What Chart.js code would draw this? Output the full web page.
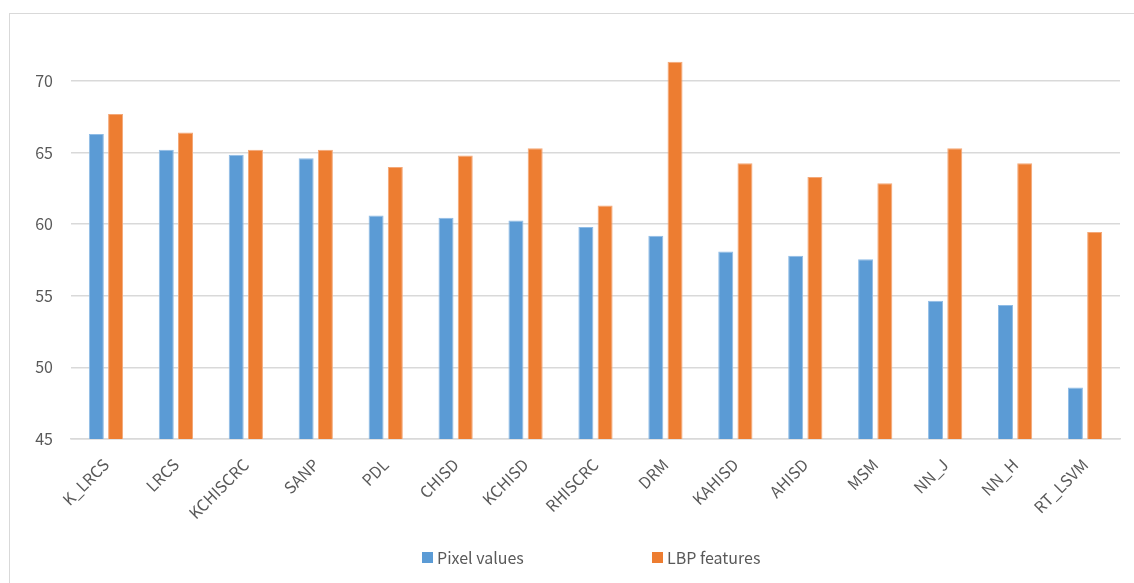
<!DOCTYPE html>
<html>
<head>
<meta charset="utf-8">
<script src="https://cdn.jsdelivr.net/npm/chart.js@4"></script>
<style>
  html, body { margin: 0; padding: 0; background: #fff; overflow: hidden; }
  #wrap { position: absolute; left: 0; top: 0; width: 1134px; height: 583px; }
</style>
</head>
<body>
<div id="wrap"><canvas id="chartMethods"></canvas></div>
<script>
const methods = ['K_LRCS', 'LRCS', 'KCHISCRC', 'SANP', 'PDL', 'CHISD', 'KCHISD', 'RHISCRC',
    'DRM', 'KAHISD', 'AHISD', 'MSM', 'NN_J', 'NN_H', 'RT_LSVM'];
const pixelValues = [66.3, 65.2, 64.85, 64.6, 60.6, 60.45, 60.25, 59.8, 59.2, 58.1, 57.8, 57.55, 54.65, 54.35, 48.6];
const lbpFeatures = [67.7, 66.4, 65.2, 65.2, 64.0, 64.8, 65.3, 61.3, 71.35, 64.25, 63.3, 62.85, 65.3, 64.25, 59.45];
const yTicks = [45, 50, 55, 60, 65, 70];

const FONT = "'Noto Sans CJK KR', 'Open Sans', sans-serif";
const TEXT = '#595959';
const GRID = '#d9d9d9';

// outer frame of the chart
const framePlugin = {
    id: 'frame',
    beforeDraw(chart) {
        const ctx = chart.ctx;
        ctx.save();
        ctx.strokeStyle = GRID;
        ctx.lineWidth = 1;
        ctx.strokeRect(9.5, 13.5, 1300, 800);
        ctx.restore();
    }
};

// legend spread out under the axis
const spreadLegend = {
    id: 'spreadLegend',
    afterDraw(chart) {
        const ctx = chart.ctx;
        const xs = [422, 652];
        ctx.save();
        ctx.font = '16px ' + FONT;
        ctx.textBaseline = 'middle';
        chart.data.datasets.forEach(function (ds, i) {
            ctx.fillStyle = ds.backgroundColor;
            ctx.fillRect(xs[i], 552, 11, 11);
            ctx.fillStyle = TEXT;
            ctx.fillText(ds.label, xs[i] + 15, 558);
        });
        ctx.restore();
    }
};

function makeDataset(label, values, color, edge) {
    return {
        label: label,
        data: values,
        backgroundColor: color,
        borderColor: edge,
        borderWidth: 1,
        categoryPercentage: 0.55,
        barPercentage: 0.78
    };
}

new Chart(document.getElementById('chartMethods'), {
    type: 'bar',
    data: {
        labels: methods,
        datasets: [
            makeDataset('Pixel values', pixelValues, '#5b9bd5', '#8fbce6'),
            makeDataset('LBP features', lbpFeatures, '#ed7d31', '#f4a878')
        ]
    },
    options: {
        responsive: true,
        maintainAspectRatio: false,
        animation: false,
        layout: { padding: { top: 38, right: 14, bottom: 0, left: 0 } },
        plugins: {
            legend: { display: false },
            tooltip: { enabled: false }
        },
        scales: {
            x: {
                grid: { display: false },
                border: { display: true, color: GRID, width: 1.5 },
                ticks: {
                    color: TEXT,
                    font: { family: FONT, size: 16 },
                    minRotation: 45,
                    maxRotation: 45,
                    autoSkip: false,
                    padding: 8
                },
                afterFit(scale) { scale.height = 144; }
            },
            y: {
                min: 45,
                max: 73,
                grid: { color: GRID, lineWidth: 1.5, drawTicks: false },
                border: { display: false },
                afterBuildTicks(scale) {
                    scale.ticks = yTicks.map(function (v) { return { value: v }; });
                },
                ticks: {
                    color: TEXT,
                    font: { family: FONT, size: 16 },
                    padding: 18
                },
                afterFit(scale) { scale.width = 71; }
            }
        }
    },
    plugins: [framePlugin, spreadLegend]
});
</script>
</body>
</html>
